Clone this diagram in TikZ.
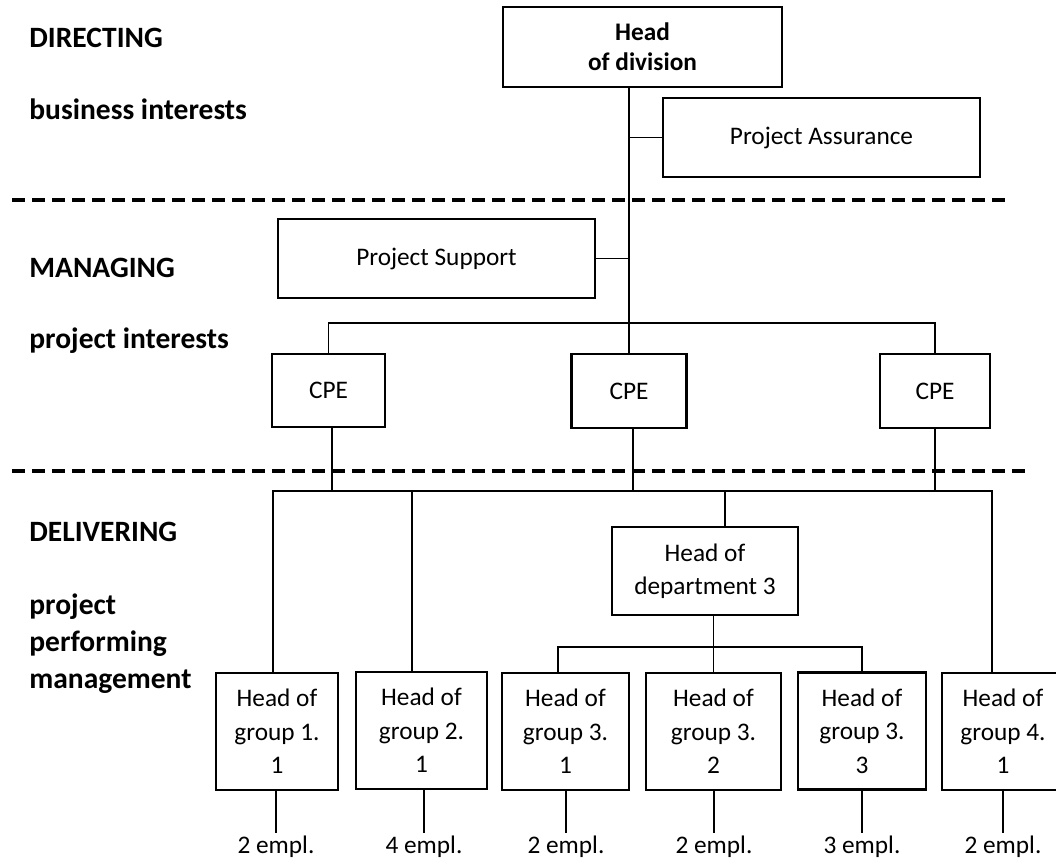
\documentclass[tikz,border=0pt]{standalone}
\usepackage{fontspec}
\setmainfont{Carlito}
\usetikzlibrary{calc}

\newcommand\orgfont{\fontsize{12.65pt}{16.75pt}\selectfont}
\newcommand\tierfont{\bfseries\fontsize{14.75pt}{18.5pt}\selectfont}

\tikzset{
  unit/.style={draw, line width=1.3pt, align=center, inner sep=0pt, font=\orgfont},
  tier/.style={anchor=base west, inner sep=0pt, align=left, font=\tierfont},
  staff/.style={anchor=base, inner sep=0pt, font=\orgfont},
  link/.style={line width=0.7pt},
  border/.style={line width=2pt, dash pattern=on 6.5pt off 3.5pt},
}

\begin{document}
\begin{tikzpicture}[x=0.5pt, y=-0.5pt]
    \useasboundingbox (0,0) rectangle (1056,859);

    % levels
    \node[tier] (dir) at (29,47) {DIRECTING};
    \node[tier] (biz) at (29,119) {business interests};
    \node[tier] (man) at (29,277) {MANAGING};
    \node[tier] (pin) at (29,348) {project interests};
    \node[tier] (del) at (29,541) {DELIVERING};
    % base of a multi-line node is its last line
    \node[tier] (ppm) at (29,688) {project\\performing\\management};

    \draw[border] (12,200) -- (1009,200);
    \draw[border] (12,471) -- (1029,471);

    % boxes
    \node[unit, minimum width=139.5pt, minimum height=40pt,
          font={\bfseries\fontsize{12.65pt}{15pt}\selectfont}] (hod) at (642.5,47) {Head\\of division};
    \node[unit, minimum width=158.5pt, minimum height=39.5pt] (pa) at (821.5,137.5) {Project Assurance};
    \node[unit, minimum width=158.5pt, minimum height=39.5pt] (ps) at (436.5,258.5) {Project Support};
    \node[unit, minimum width=56.5pt, minimum height=36.5pt] (cpe1) at (328.5,390.5) {CPE};
    \node[unit, minimum width=57.5pt, minimum height=37pt] (cpe2) at (629,391) {CPE};
    \node[unit, minimum width=55pt, minimum height=37pt] (cpe3) at (935,391) {CPE};
    \node[unit, minimum width=93pt, minimum height=44pt] (dep3) at (705,571) {Head of\\department 3};

    \node[unit, minimum width=61pt, minimum height=58.5pt] (g11) at (277,731.5) {Head of\\group 1.\\1};
    \node[unit, minimum width=65.5pt, minimum height=58.5pt] (g21) at (421.5,730.5) {Head of\\group 2.\\1};
    \node[unit, minimum width=63.5pt, minimum height=58.5pt] (g31) at (565.5,731.5) {Head of\\group 3.\\1};
    \node[unit, minimum width=67.5pt, minimum height=58.5pt] (g32) at (713.5,731.5) {Head of\\group 3.\\2};
    \node[unit, minimum width=64pt, minimum height=58.5pt] (g33) at (862,731) {Head of\\group 3.\\3};
    \node[unit, minimum width=61pt, minimum height=58.5pt] (g41) at (1003,731.5) {Head of\\group 4.\\1};

    \node[staff] (e11) at (276,853) {2 empl.};
    \node[staff] (e21) at (424,853) {4 empl.};
    \node[staff] (e31) at (566,853) {2 empl.};
    \node[staff] (e32) at (714,853) {2 empl.};
    \node[staff] (e33) at (862,853) {3 empl.};
    \node[staff] (e41) at (1003,853) {2 empl.};

    \coordinate (bus1) at (0,323);
    \coordinate (bus2) at (0,491);
    \coordinate (bus3) at (0,647);

    % connectors
    \draw[link] (hod.south -| cpe2.north) -- (cpe2.north);
    \draw[link] (pa.west) -- (pa.west -| cpe2.north);
    \draw[link] (ps.east) -- (ps.east -| cpe2.north);
    \draw[link] (cpe1.north) -- (cpe1.north |- bus1) -- (cpe3.north |- bus1) -- (cpe3.north);

    \draw[link] ($(cpe1.south)+(3.5,0)$) -- ($(cpe1.south |- bus2)+(3.5,0)$);
    \draw[link] ($(cpe2.south)+(4,0)$) -- ($(cpe2.south |- bus2)+(4,0)$);
    \draw[link] (cpe3.south) -- (cpe3.south |- bus2);

    \draw[link] ($(g11.north)+(-4,0)$) -- ($(g11.north |- bus2)+(-4,0)$)
        -- ($(g41.north |- bus2)+(-11,0)$) -- ($(g41.north)+(-11,0)$);
    \draw[link] ($(g21.north)+(-9.5,0)$) -- ($(g21.north |- bus2)+(-9.5,0)$);
    \draw[link] ($(dep3.north)+(20,0)$) -- ($(dep3.north |- bus2)+(20,0)$);

    \draw[link] (dep3.south -| g32.north) -- (g32.north);
    \draw[link] ($(g31.north)+(-7.5,0)$) -- ($(g31.north |- bus3)+(-7.5,0)$)
        -- (g33.north |- bus3) -- (g33.north);

    \foreach \g/\e in {g11/e11, g21/e21, g31/e31, g32/e32, g33/e33, g41/e41}
        \draw[link] (\e.north |- \g.south) -- ($(\e.north)+(0,-2)$);

\end{tikzpicture}
\end{document}
